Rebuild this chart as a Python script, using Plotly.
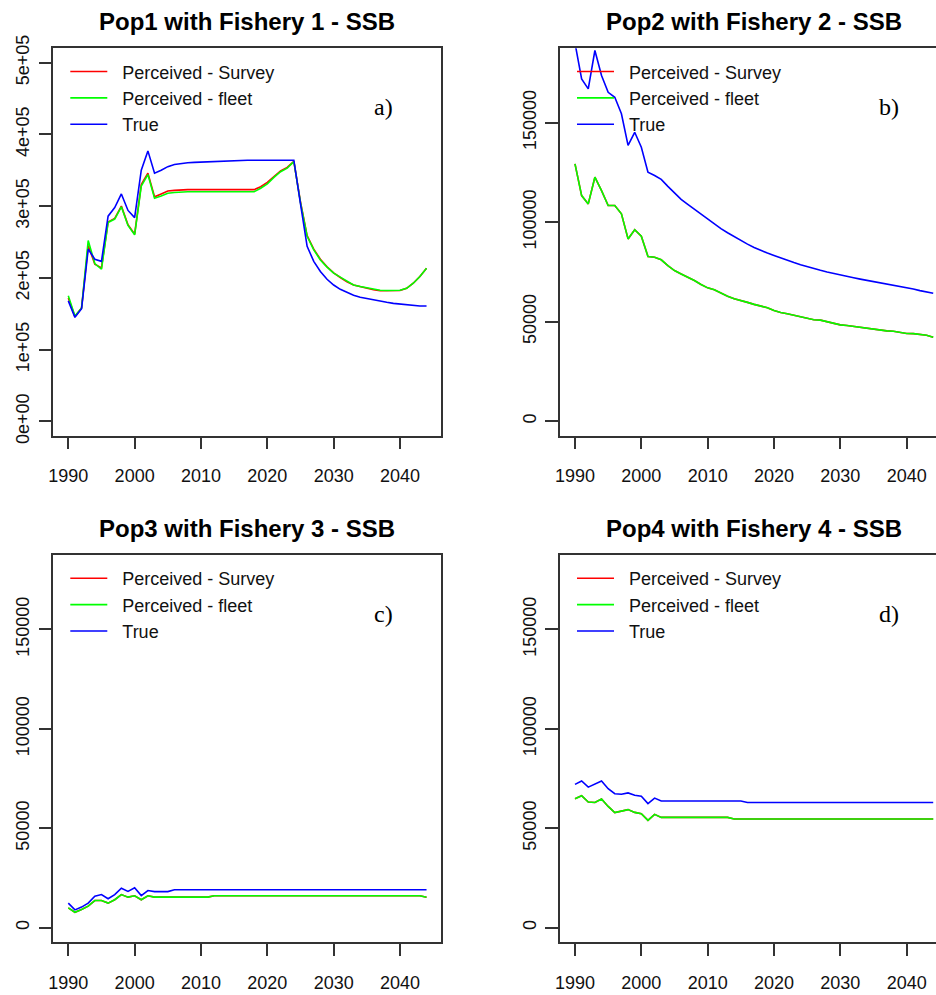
import plotly.graph_objects as go

# ---------------------------------------------------------------- data
years = list(range(1990, 2045))

pop1_survey = [172000, 146000, 158000, 245000, 219000, 214000, 278000, 283000, 300000, 274000,
               261000, 330000, 346000, 313000, 317000, 321000, 322000, 323000, 323000, 323000,
               323000, 323000, 323000, 323000, 323000, 323000, 323000, 323000, 323000, 327000,
               333000, 341000, 349000, 354000, 362500, 306000, 259000, 240000, 226000, 215500,
               207000, 200500, 194500, 190000, 187500, 185500, 183500, 182000, 182000, 182000,
               182500, 185500, 192500, 202000, 213500]
pop1_fleet = [175000, 147000, 158000, 252000, 220000, 212000, 277000, 282000, 299000, 273000,
              260000, 328000, 344000, 311000, 314000, 318000, 319000, 320000, 320000, 320000,
              320000, 320000, 320000, 320000, 319500, 319500, 319500, 319500, 320000, 325000,
              331000, 340000, 348000, 353000, 362000, 305000, 258000, 239000, 225000, 215000,
              206500, 201000, 195000, 190000, 188000, 186000, 184000, 182700, 182300, 182300,
              182700, 185500, 192500, 202000, 213500]
pop1_true = [168000, 145000, 157000, 240000, 226000, 223000, 286000, 298000, 317000, 294000,
             284000, 350000, 377000, 346000, 350000, 355000, 358000, 359500, 360500, 361000,
             361500, 362000, 362500, 363000, 363000, 363500, 364000, 364000, 364000, 364000,
             364000, 364000, 364000, 364000, 364000, 303000, 244000, 223000, 209000, 198000,
             190000, 184000, 179500, 175700, 173000, 171000, 169000, 167300, 166000, 164500,
             163600, 161700, 160800, 160800, 160800]

pop2_survey = [129300, 113400, 109200, 122600, 115900, 108400, 108400, 104200, 91600, 96200,
               93000, 82800, 82400, 81100, 78200, 75700, 74000, 72400, 70700, 68700,
               67000, 66000, 64300, 62800, 61500, 60700, 59700, 58700, 57700, 57000,
               55600, 54600, 54000, 53300, 52600, 51600, 51000, 50800, 49900, 49200,
               48400, 48100, 47600, 47100, 46700, 46200, 45700, 45400, 45200, 44700,
               44100, 44000, 43600, 43200, 42200]
pop2_fleet = [129300, 113400, 109200, 122600, 115900, 108400, 108400, 104200, 91600, 96200,
              93000, 82800, 82400, 81100, 78200, 75700, 74000, 72400, 70700, 68700,
              67000, 66000, 64300, 62800, 61500, 60700, 59700, 58700, 57700, 57000,
              55600, 54600, 54000, 53300, 52600, 51600, 51000, 50800, 49900, 49200,
              48400, 48100, 47600, 47100, 46700, 46200, 45700, 45400, 45200, 44700,
              44100, 44000, 43600, 43200, 42200]
pop2_true = [190000, 172000, 167000, 186300, 173700, 165300, 162800, 154500, 138600, 145200,
             137700, 125100, 123500, 121500, 118000, 114500, 111500, 109000, 106500, 104000,
             101500, 99000, 96800, 94700, 92700, 90800, 89000, 87300, 85800, 84500,
             83300, 82000, 80800, 79700, 78600, 77600, 76700, 75800, 75000, 74200,
             73500, 72800, 72100, 71400, 70800, 70200, 69500, 68900, 68300, 67700,
             67100, 66400, 65600, 64900, 64300]

pop3_survey = [10000, 7800, 9200, 10900, 13700, 13700, 12400, 14100, 16700, 15400,
               16100, 14100, 16100, 15400, 15400, 15400, 15400, 15400, 15400, 15400,
               15400, 15400, 16100, 16100, 16100, 16100, 16100, 16100, 16100, 16100,
               16100, 16100, 16100, 16100, 16100, 16100, 16100, 16100, 16100, 16100,
               16100, 16100, 16100, 16100, 16100, 16100, 16100, 16100, 16100, 16100,
               16100, 16100, 16100, 16100, 15300]
pop3_fleet = [10000, 7800, 9200, 10900, 13700, 13700, 12400, 14100, 16700, 15400,
              16100, 14100, 16100, 15400, 15400, 15400, 15400, 15400, 15400, 15400,
              15400, 15400, 16100, 16100, 16100, 16100, 16100, 16100, 16100, 16100,
              16100, 16100, 16100, 16100, 16100, 16100, 16100, 16100, 16100, 16100,
              16100, 16100, 16100, 16100, 16100, 16100, 16100, 16100, 16100, 16100,
              16100, 16100, 16100, 16100, 15300]
pop3_true = [12400, 9000, 10400, 12400, 15900, 16700, 14600, 16700, 19900, 18300,
             20100, 16200, 18700, 18200, 18200, 18200, 19100, 19100, 19100, 19100,
             19100, 19100, 19100, 19100, 19100, 19100, 19100, 19100, 19100, 19100,
             19100, 19100, 19100, 19100, 19100, 19100, 19100, 19100, 19100, 19100,
             19100, 19100, 19100, 19100, 19100, 19100, 19100, 19100, 19100, 19100,
             19100, 19100, 19100, 19100, 19100]

pop4_survey = [64900, 66400, 63200, 63000, 64700, 61000, 57900, 58500, 59400, 58000,
               57300, 54000, 57000, 55500, 55500, 55500, 55500, 55500, 55500, 55500,
               55500, 55500, 55500, 55500, 54700, 54700, 54700, 54700, 54700, 54700,
               54700, 54700, 54700, 54700, 54700, 54700, 54700, 54700, 54700, 54700,
               54700, 54700, 54700, 54700, 54700, 54700, 54700, 54700, 54700, 54700,
               54700, 54700, 54700, 54700, 54700]
pop4_fleet = [64900, 66400, 63200, 63000, 64700, 61000, 57900, 58500, 59400, 58000,
              57300, 54000, 57000, 55500, 55500, 55500, 55500, 55500, 55500, 55500,
              55500, 55500, 55500, 55500, 54700, 54700, 54700, 54700, 54700, 54700,
              54700, 54700, 54700, 54700, 54700, 54700, 54700, 54700, 54700, 54700,
              54700, 54700, 54700, 54700, 54700, 54700, 54700, 54700, 54700, 54700,
              54700, 54700, 54700, 54700, 54700]
pop4_true = [72100, 73800, 70700, 72400, 73800, 69900, 67400, 67100, 67800, 66600,
             66100, 62400, 65200, 63700, 63700, 63700, 63700, 63700, 63700, 63700,
             63700, 63700, 63700, 63700, 63700, 63700, 63000, 63000, 63000, 63000,
             63000, 63000, 63000, 63000, 63000, 63000, 63000, 63000, 63000, 63000,
             63000, 63000, 63000, 63000, 63000, 63000, 63000, 63000, 63000, 63000,
             63000, 63000, 63000, 63000, 63000]

series_names = ["Perceived - Survey", "Perceived - fleet", "True"]
series_colors = ["#FF0000", "#00FF00", "#0000FF"]

panel_titles = ["Pop1 with Fishery 1 - SSB", "Pop2 with Fishery 2 - SSB",
                "Pop3 with Fishery 3 - SSB", "Pop4 with Fishery 4 - SSB"]
panel_tags = ["a)", "b)", "c)", "d)"]

x_ticks = [1990, 2000, 2010, 2020, 2030, 2040]
y_ticks_pop1 = [0, 100000, 200000, 300000, 400000, 500000]
y_ticklabels_pop1 = ["0e+00", "1e+05", "2e+05", "3e+05", "4e+05", "5e+05"]
y_ticks_other = [0, 50000, 100000, 150000]
y_ticklabels_other = ["0", "50000", "100000", "150000"]

panel_series = [
    (pop1_survey, pop1_fleet, pop1_true),
    (pop2_survey, pop2_fleet, pop2_true),
    (pop3_survey, pop3_fleet, pop3_true),
    (pop4_survey, pop4_fleet, pop4_true),
]

# ---------------------------------------------------------------- layout geometry (pixels)
W, H = 936, 995
left_cols = [(53.3, 441.0), (560.0, 936.0)]
rows = [(48.3, 435.7), (555.0, 942.3)]
x_ranges = [[1987.74, 2046.18], [1987.74, 2044.42]]
y_range_pop1 = [-20000, 520000]
y_range_other = [-7300, 187400]

FONT = "Liberation Sans, Arial, sans-serif"
AXCOL = "#333333"
NBSP = "\u00a0"

fig = go.Figure()
layout = dict(
    template="none",
    width=W, height=H,
    margin=dict(l=0, r=0, t=0, b=0, autoexpand=False),
    paper_bgcolor="white", plot_bgcolor="white",
    showlegend=True,
    font=dict(family=FONT, color="black"),
)

annotations = []
for p in range(4):
    r, c = divmod(p, 2)
    x0, x1 = left_cols[c]
    top, bottom = rows[r]
    ax = "" if p == 0 else str(p + 1)
    legend_id = "legend" if p == 0 else f"legend{p + 1}"

    for name, color, vals in zip(series_names, series_colors, panel_series[p]):
        fig.add_trace(go.Scatter(
            x=years, y=vals, mode="lines", name=NBSP * 2 + name,
            line=dict(color=color, width=1.6),
            xaxis="x" + ax, yaxis="y" + ax,
            legend=legend_id, showlegend=True,
        ))

    layout["xaxis" + ax] = dict(
        domain=[x0 / W, x1 / W], anchor="y" + ax,
        range=x_ranges[c], tickvals=x_ticks, automargin=False,
        ticks="outside", ticklen=12, tickwidth=1.5, tickcolor=AXCOL,
        showline=True, linecolor=AXCOL, linewidth=1.5, mirror=True,
        showgrid=False, zeroline=False,
        tickfont=dict(size=18, family=FONT, color="#111111"),
        ticklabelstandoff=11,
    )
    layout["yaxis" + ax] = dict(
        domain=[(H - bottom) / H, (H - top) / H], anchor="x" + ax,
        range=y_range_pop1 if p == 0 else y_range_other,
        tickvals=y_ticks_pop1 if p == 0 else y_ticks_other,
        ticktext=y_ticklabels_pop1 if p == 0 else y_ticklabels_other,
        tickangle=-90, automargin=False,
        ticks="outside", ticklen=13, tickwidth=1.5, tickcolor=AXCOL,
        showline=True, linecolor=AXCOL, linewidth=1.5, mirror=(c == 0),
        showgrid=False, zeroline=False,
        tickfont=dict(size=18, family=FONT, color="#111111"),
        ticklabelstandoff=2,
    )

    # legend in the upper-left corner of the panel, without a frame
    layout[legend_id] = dict(
        x=(x0 + 12) / W, y=(H - top - 5) / H, xanchor="left", yanchor="top",
        bgcolor="rgba(0,0,0,0)", borderwidth=0,
        font=dict(size=18, family=FONT, color="#111111"),
        itemwidth=37, tracegroupgap=0,
    )

    # panel title, centred over the full panel box
    full_x1 = x0 + (x_ranges[0][1] - x_ranges[0][0]) / (x_ranges[c][1] - x_ranges[c][0]) * (x1 - x0)
    annotations.append(dict(
        text="<b>" + panel_titles[p] + "</b>", showarrow=False,
        xref="paper", yref="paper",
        x=(x0 + full_x1) / 2 / W, y=(H - (top - 27)) / H,
        xanchor="center", yanchor="middle",
        font=dict(size=24, family=FONT, color="black"),
    ))
    # panel tag
    annotations.append(dict(
        text=panel_tags[p], showarrow=False,
        xref="paper", yref="paper",
        x=(x0 + 330 if c == 0 else x0 + 329) / W, y=(H - (top + 59)) / H,
        xanchor="center", yanchor="middle",
        font=dict(size=24, family="Liberation Serif, Times New Roman, serif", color="black"),
    ))

layout["annotations"] = annotations
fig.update_layout(**layout)
fig.write_html("out.html")
